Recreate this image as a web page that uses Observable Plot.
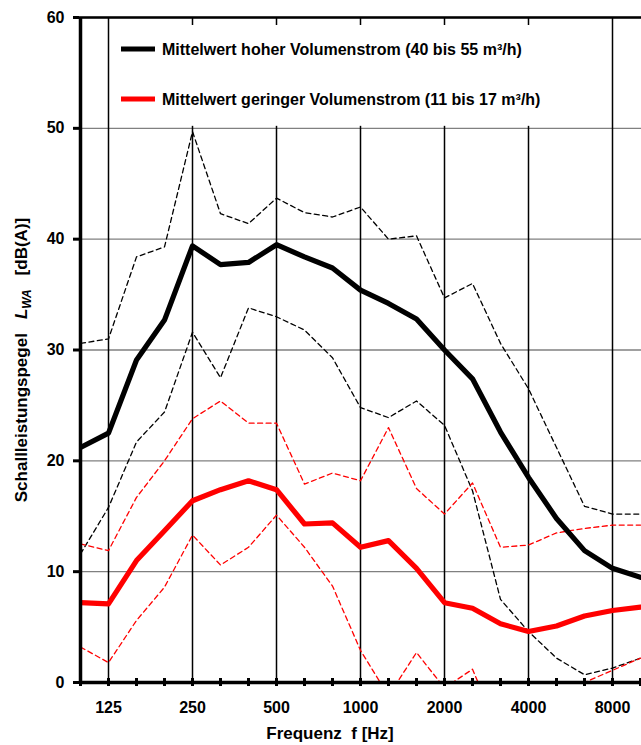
<!DOCTYPE html>
<html>
<head>
<meta charset="utf-8">
<script src="https://cdn.jsdelivr.net/npm/d3@7"></script>
<script src="https://cdn.jsdelivr.net/npm/@observablehq/plot@0.6"></script>
<style>
  body { margin: 0; background: #fff; }
  #chart { width: 641px; height: 745px; }
  svg text { font-family: "Liberation Sans", Arial, sans-serif; font-weight: bold; }
</style>
</head>
<body>
<div id="chart"></div>
<script>
// Terzband-Mittenfrequenzen in Hz
const frequenzen = [100, 125, 160, 200, 250, 315, 400, 500, 630, 800, 1000, 1250, 1600, 2000, 2500, 3150, 4000, 5000, 6300, 8000, 10000];
const xTickLabels = [125, 250, 500, 1000, 2000, 4000, 8000];
const yTicks = [0, 10, 20, 30, 40, 50, 60];

// hoher Volumenstrom (40 bis 55 m³/h)
const hochMittel = [21.2, 22.5, 29.1, 32.7, 39.4, 37.7, 37.9, 39.5, 38.4, 37.4, 35.4, 34.2, 32.8, 30.0, 27.4, 22.6, 18.5, 14.8, 11.9, 10.3, 9.5];
const hochMax    = [30.6, 31.0, 38.4, 39.3, 49.7, 42.3, 41.4, 43.7, 42.4, 42.0, 42.9, 40.0, 40.3, 34.7, 36.0, 30.6, 26.5, 21.2, 15.9, 15.2, 15.2];
const hochMin    = [11.6, 15.8, 21.7, 24.4, 31.6, 27.5, 33.8, 33.0, 31.8, 29.3, 24.8, 23.9, 25.4, 23.2, 17.3, 7.5, 4.6, 2.2, 0.7, 1.3, 2.2];

// geringer Volumenstrom (11 bis 17 m³/h)
const geringMittel = [7.2, 7.1, 11.0, 13.7, 16.4, 17.4, 18.2, 17.4, 14.3, 14.4, 12.2, 12.8, 10.3, 7.2, 6.7, 5.3, 4.6, 5.1, 6.0, 6.5, 6.8];
const geringMax    = [12.5, 11.9, 16.7, 20.0, 23.8, 25.4, 23.4, 23.4, 17.9, 18.9, 18.2, 23.0, 17.5, 15.2, 18.0, 12.2, 12.4, 13.5, 13.9, 14.2, 14.2];
const geringMin    = [3.2, 1.8, 5.6, 8.6, 13.3, 10.6, 12.2, 15.1, 12.2, 8.7, 2.9, -1.2, 2.7, -0.5, 1.2, -4.8, -3.0, -1.5, 0.0, 1.1, 2.2];

const legendLabels = [
  "Mittelwert hoher Volumenstrom (40 bis 55 m³/h)",
  "Mittelwert geringer Volumenstrom (11 bis 17 m³/h)"
];

const rows = (vals) => frequenzen.map((f, i) => ({f, v: vals[i]}));

const dashed = (vals, color) => Plot.line(rows(vals), {
  x: "f", y: "v", stroke: color, strokeWidth: 1.3, strokeDasharray: "5,3.5", clip: true
});
const solid = (vals, color) => Plot.line(rows(vals), {
  x: "f", y: "v", stroke: color, strokeWidth: 5.2, clip: true
});

const plot = Plot.plot({
  width: 641,
  height: 745,
  marginLeft: 79,
  marginRight: 0,
  marginTop: 17,
  marginBottom: 63,
  style: {fontFamily: "'Liberation Sans', Arial, sans-serif", fontSize: "16px", fontWeight: "bold", background: "#fff", overflow: "visible"},
  x: {type: "point", domain: frequenzen, padding: 0},
  y: {domain: [0, 60]},
  marks: [
    Plot.gridY({ticks: yTicks, stroke: "#808080", strokeOpacity: 1, strokeWidth: 1.4}),
    Plot.gridX({ticks: xTickLabels, stroke: "#000", strokeOpacity: 1, strokeWidth: 1.5}),
    dashed(hochMax, "#000"),
    dashed(hochMin, "#000"),
    dashed(geringMax, "#ff0000"),
    dashed(geringMin, "#ff0000"),
    solid(hochMittel, "#000"),
    solid(geringMittel, "#ff0000"),
    Plot.ruleY([60], {stroke: "#000", strokeWidth: 2.5}),
    Plot.ruleY([0], {stroke: "#000", strokeWidth: 3.5}),
    Plot.ruleX([frequenzen[0]], {stroke: "#000", strokeWidth: 3.5}),
    Plot.tickX(frequenzen, {x: d => d, stroke: "#000", strokeWidth: 3, insetTop: 661, insetBottom: -4}),
    Plot.axisY({ticks: yTicks, tickSize: 6, strokeWidth: 3, tickPadding: 9, fontSize: 16, fontWeight: "bold", label: null}),
    Plot.axisX({ticks: xTickLabels, tickSize: 0, tickPadding: 19, fontSize: 16, fontWeight: "bold", tickFormat: d => String(d), label: null})
  ]
});

document.getElementById("chart").appendChild(plot);

// Legend and axis titles
const svg = d3.select(plot);
const xs = plot.scale("x");
const ys = plot.scale("y");
const X = v => xs.apply(v);
const Y = v => ys.apply(v);

const leg = svg.append("g");
leg.append("rect")
  .attr("x", X(125) + 2).attr("y", Y(60) + 8)
  .attr("width", X(8000) - X(125) - 5).attr("height", Y(50) - Y(60) - 10)
  .attr("fill", "#fff");
const legColors = ["#000", "#ff0000"];
legendLabels.forEach((t, i) => {
  const yy = Y(60) + 32 + i * 50;
  leg.append("line").attr("x1", X(125) + 13).attr("x2", X(125) + 47)
    .attr("y1", yy).attr("y2", yy).attr("stroke", legColors[i]).attr("stroke-width", 5);
  leg.append("text").attr("x", X(125) + 54).attr("y", yy + 6)
    .attr("text-anchor", "start")
    .attr("font-size", 16).attr("fill", "#000").text(t);
});

// x-axis title
svg.append("text")
  .attr("x", 330).attr("y", 739)
  .attr("text-anchor", "middle").attr("font-size", 17).attr("fill", "#000")
  .attr("xml:space", "preserve")
  .text("Frequenz  f [Hz]");

// y-axis title with subscript
const yt = svg.append("text")
  .attr("transform", "translate(27,360) rotate(-90)")
  .attr("text-anchor", "middle").attr("font-size", 17).attr("fill", "#000");
yt.append("tspan").text("Schallleistungspegel");
yt.append("tspan").attr("dx", 14).attr("font-style", "italic").text("L");
yt.append("tspan").attr("dy", 4).attr("font-size", 12).attr("font-style", "italic").text("WA");
yt.append("tspan").attr("dy", -4).attr("dx", 14).text("[dB(A)]");
</script>
</body>
</html>
